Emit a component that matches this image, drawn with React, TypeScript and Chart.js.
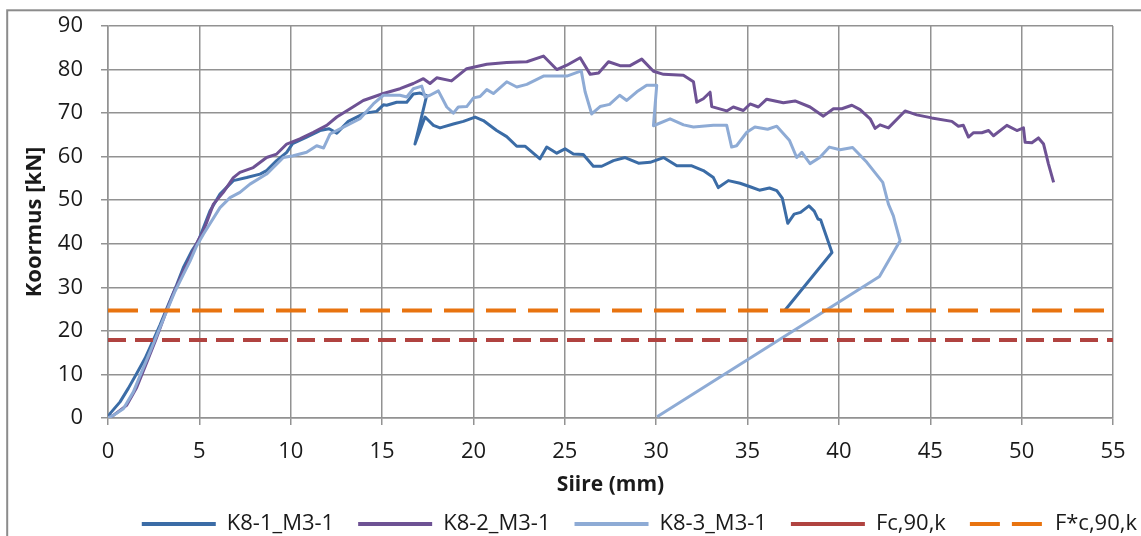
import React, { useEffect, useRef } from "react";
import { Chart, registerables } from "chart.js";

Chart.register(...registerables);

// ---- data ----
const seriesLabels = ["K8-1_M3-1", "K8-2_M3-1", "K8-3_M3-1", "Fc,90,k", "F*c,90,k"];
const xTitle = "Siire (mm)";
const yTitle = "Koormus [kN]";
const xTicks = [0, 5, 10, 15, 20, 25, 30, 35, 40, 45, 50, 55];
const yTicks = [0, 10, 20, 30, 40, 50, 60, 70, 80, 90];

const k81X = [0, 0.11, 0.66, 1.11, 1.57, 2.03, 2.48, 2.85, 3.3, 3.76, 4.12, 4.58, 4.94, 5.58, 6.13, 6.86, 7.59, 8.32, 8.68, 9.23, 9.78, 10.1, 10.87, 11.6, 12.1, 12.52, 13.15, 14.05, 14.7, 15.07, 15.25, 15.8, 16.35, 16.71, 17.08, 17.44, 16.8, 17.35, 17.81, 18.17, 18.9, 19.45, 20.09, 20.54, 21.27, 21.82, 22.37, 22.82, 23.64, 24.01, 24.56, 25.01, 25.47, 26.01, 26.56, 27.02, 27.66, 28.3, 29.03, 29.67, 30.4, 31.13, 31.95, 32.58, 33.13, 33.4, 33.95, 34.59, 35.14, 35.65, 36.2, 36.6, 36.9, 37.2, 37.55, 37.9, 38.36, 38.65, 38.85, 39.0, 39.62, 37.06];
const k81Y = [0, 1.0, 3.7, 6.8, 10.2, 13.7, 17.9, 21.4, 26.0, 30.6, 34.5, 38.3, 40.6, 47.5, 51.4, 54.5, 55.2, 56.0, 56.8, 59.1, 61.0, 63.0, 64.5, 66.0, 66.4, 65.4, 68.1, 70.0, 70.4, 71.9, 71.8, 72.5, 72.5, 74.4, 74.6, 74.0, 62.9, 69.1, 67.2, 66.6, 67.5, 68.1, 69.1, 68.3, 66.0, 64.6, 62.4, 62.4, 59.5, 62.2, 60.8, 61.8, 60.6, 60.5, 57.8, 57.8, 59.1, 59.8, 58.5, 58.7, 59.8, 57.9, 57.9, 56.8, 55.2, 52.9, 54.5, 53.9, 53.1, 52.3, 52.8, 52.2, 50.5, 44.7, 46.8, 47.2, 48.7, 47.5, 45.7, 45.5, 38.0, 24.8];

const k82X = [0, 0.29, 1.02, 1.57, 2.1, 2.6, 3.1, 3.6, 4.1, 4.5, 4.9, 5.22, 5.77, 6.31, 6.86, 7.22, 7.95, 8.68, 9.23, 9.78, 10.5, 11.24, 11.97, 12.52, 13.25, 13.97, 15.07, 15.98, 16.71, 17.26, 17.62, 17.99, 18.8, 19.63, 20.73, 21.82, 22.92, 23.83, 24.56, 25.11, 25.84, 26.39, 26.85, 27.39, 28.02, 28.57, 29.21, 29.85, 30.4, 31.49, 32.04, 32.22, 32.58, 32.95, 33.04, 33.86, 34.22, 34.77, 35.14, 35.59, 36.05, 36.96, 37.6, 38.42, 39.15, 39.7, 40.16, 40.71, 41.16, 41.71, 41.98, 42.25, 42.71, 43.62, 44.26, 45.08, 46.18, 46.54, 46.81, 47.09, 47.37, 47.82, 48.19, 48.46, 49.19, 49.74, 50.1, 50.19, 50.56, 50.92, 51.2, 51.47, 51.75];
const k82Y = [0, 0.6, 2.9, 7.0, 12.5, 17.8, 23.5, 28.8, 33.5, 36.8, 40.5, 42.9, 49.1, 51.8, 55.2, 56.4, 57.5, 59.8, 60.6, 62.9, 64.1, 65.6, 67.2, 69.1, 71.0, 72.9, 74.5, 75.6, 76.8, 77.9, 76.8, 78.1, 77.4, 80.2, 81.2, 81.6, 81.8, 83.1, 80.0, 81.0, 82.7, 78.9, 79.2, 81.8, 80.9, 80.9, 82.4, 79.6, 78.9, 78.7, 77.2, 72.5, 73.3, 74.8, 71.5, 70.5, 71.4, 70.6, 72.1, 71.4, 73.2, 72.4, 72.8, 71.4, 69.3, 71.0, 71.0, 71.8, 70.8, 68.7, 66.5, 67.3, 66.6, 70.5, 69.6, 68.9, 68.1, 67.0, 67.2, 64.5, 65.5, 65.5, 66.0, 64.8, 67.2, 66.0, 66.6, 63.3, 63.2, 64.3, 62.9, 58.3, 54.1];

const k83X = [0, 0.29, 0.84, 1.39, 1.84, 2.3, 2.75, 3.21, 3.67, 4.12, 4.49, 4.85, 5.22, 6.13, 6.68, 7.22, 7.77, 8.68, 9.6, 10.14, 10.87, 11.42, 11.8, 12.15, 13.07, 13.79, 14.52, 15.07, 15.98, 16.35, 16.71, 17.17, 17.35, 17.62, 18.08, 18.54, 18.9, 19.17, 19.63, 20.0, 20.36, 20.73, 21.09, 21.82, 22.37, 22.92, 23.83, 25.11, 25.9, 26.11, 26.47, 26.93, 27.45, 28.0, 28.39, 28.94, 29.48, 30.03, 29.85, 30.76, 31.5, 32.04, 33.13, 33.86, 34.13, 34.4, 34.96, 35.4, 36.1, 36.6, 37.3, 37.69, 37.97, 38.42, 38.95, 39.48, 40.06, 40.75, 41.53, 42.4, 42.71, 42.98, 43.08, 43.35, 42.22, 30.05];
const k83Y = [0, 0.6, 2.1, 6.0, 10.6, 15.2, 19.8, 24.5, 29.1, 32.9, 36.0, 39.5, 42.2, 48.3, 50.6, 51.8, 53.7, 56.0, 59.8, 60.2, 61.0, 62.5, 62.0, 65.2, 67.2, 68.7, 72.1, 74.1, 74.1, 73.7, 75.6, 76.2, 73.7, 74.1, 75.1, 71.4, 70.0, 71.4, 71.5, 73.5, 73.8, 75.4, 74.5, 77.2, 76.0, 76.6, 78.5, 78.5, 79.7, 74.9, 69.8, 71.5, 72.0, 74.1, 72.9, 74.9, 76.4, 76.4, 67.1, 68.7, 67.3, 66.8, 67.2, 67.2, 62.2, 62.5, 65.6, 66.8, 66.3, 67.0, 63.7, 59.8, 61.0, 58.4, 59.8, 62.2, 61.6, 62.1, 58.7, 54.1, 49.1, 46.4, 44.8, 40.7, 32.5, 0.3];

const fcX = [0, 55];
const fcY = [17.9, 17.9];
const fStarX = [0, 55];
const fStarY = [24.7, 24.7];

// ---- styles ----
const FONT = "'Open Sans', 'DejaVu Sans', sans-serif";
const TEXT = "#1a1a1a";
const GRID = "#929292";
const colors = ["#3B6CA6", "#6E5294", "#8EABD5", "#B04340", "#E8730F"];

const pts = (xs: number[], ys: number[]) => xs.map((x, i) => ({ x, y: ys[i] }));

const framePlugin = {
  id: "frame",
  beforeDraw(chart: any) {
    const ctx = chart.ctx;
    ctx.save();
    ctx.strokeStyle = "#8c8c8c";
    ctx.lineWidth = 2;
    ctx.strokeRect(7.2, 10.3, 1500, 900);
    ctx.restore();
  },
};

export default function App() {
  const ref = useRef<HTMLCanvasElement>(null);

  useEffect(() => {
    document.body.style.margin = "0";
    document.body.style.overflow = "hidden";
    const curve = (i: number, xs: number[], ys: number[], order: number) => ({
      label: seriesLabels[i],
      data: pts(xs, ys),
      showLine: true,
      borderColor: colors[i],
      backgroundColor: colors[i],
      borderWidth: 3,
      pointRadius: 0,
      pointHoverRadius: 0,
      tension: 0,
      borderJoinStyle: "round" as const,
      order,
    });
    const datasets: any[] = [
      curve(0, k81X, k81Y, 5),
      curve(1, k82X, k82Y, 4),
      curve(2, k83X, k83Y, 3),
      { ...curve(3, fcX, fcY, 2), borderWidth: 4, borderDash: [18, 9], borderCapStyle: "butt" },
      { ...curve(4, fStarX, fStarY, 1), borderWidth: 4, borderDash: [30, 12], borderCapStyle: "butt" },
    ];

    const chart = new Chart(ref.current as HTMLCanvasElement, {
      type: "scatter",
      data: { datasets },
      plugins: [framePlugin],
      options: {
        animation: false,
        responsive: true,
        maintainAspectRatio: false,
        layout: { padding: { left: 0, top: 26, right: -20, bottom: -9 } },
        plugins: {
          tooltip: { enabled: false },
          legend: {
            position: "bottom",
            align: "end",
            labels: {
              usePointStyle: true,
              pointStyle: "line",
              pointStyleWidth: 74,
              padding: 24,
              color: TEXT,
              font: { family: FONT, size: 22 },
              sort: (a: any, b: any) => a.datasetIndex - b.datasetIndex,
              generateLabels: (c: any) => {
                const items = (Chart.defaults.plugins.legend.labels as any).generateLabels(c);
                items.forEach((it: any) => {
                  const ds = c.data.datasets[it.datasetIndex];
                  it.strokeStyle = ds.borderColor;
                  it.fillStyle = ds.borderColor;
                  it.lineWidth = 4;
                  it.pointStyle = "line";
                  it.lineCap = "butt";
                  it.lineDash = it.datasetIndex === 4 ? [30, 12] : [];
                });
                return items;
              },
            },
          },
        },
        scales: {
          x: {
            type: "linear",
            min: 0,
            max: 55,
            afterBuildTicks: (s: any) => {
              s.ticks = xTicks.map((v) => ({ value: v }));
            },
            ticks: { padding: 14, color: TEXT, font: { family: FONT, size: 22 } },
            grid: { color: GRID, lineWidth: 1.5, tickLength: 7 },
            border: { color: GRID, width: 1.5 },
            title: {
              display: true,
              text: xTitle,
              color: TEXT,
              font: { family: FONT, size: 21, weight: "bold", lineHeight: 0.35 },
              padding: 0,
            },
            afterFit: (s: any) => {
              s.height = 71;
            },
          },
          y: {
            type: "linear",
            min: 0,
            max: 90,
            afterBuildTicks: (s: any) => {
              s.ticks = yTicks.map((v) => ({ value: v }));
            },
            ticks: { padding: 18, color: TEXT, font: { family: FONT, size: 22 } },
            grid: { color: GRID, lineWidth: 1.5, tickLength: 7 },
            border: { color: GRID, width: 1.5 },
            title: {
              display: true,
              text: yTitle,
              color: TEXT,
              font: { family: FONT, size: 22, weight: "bold" },
              padding: { top: 22, bottom: 0 },
            },
            afterFit: (s: any) => {
              s.width = 108;
              s.paddingTop = 0;
              s.paddingBottom = 0;
            },
          },
          yR: {
            position: "right",
            display: true,
            grid: { display: false, drawTicks: false },
            border: { display: false },
            ticks: { display: false },
            afterFit: (s: any) => {
              s.width = 48;
              s.paddingTop = 0;
              s.paddingBottom = 0;
            },
          },
        },
      } as any,
    });
    return () => chart.destroy();
  }, []);

  return (
    <div style={{ position: "relative", width: 1141, height: 536 }}>
      <canvas ref={ref} />
    </div>
  );
}
